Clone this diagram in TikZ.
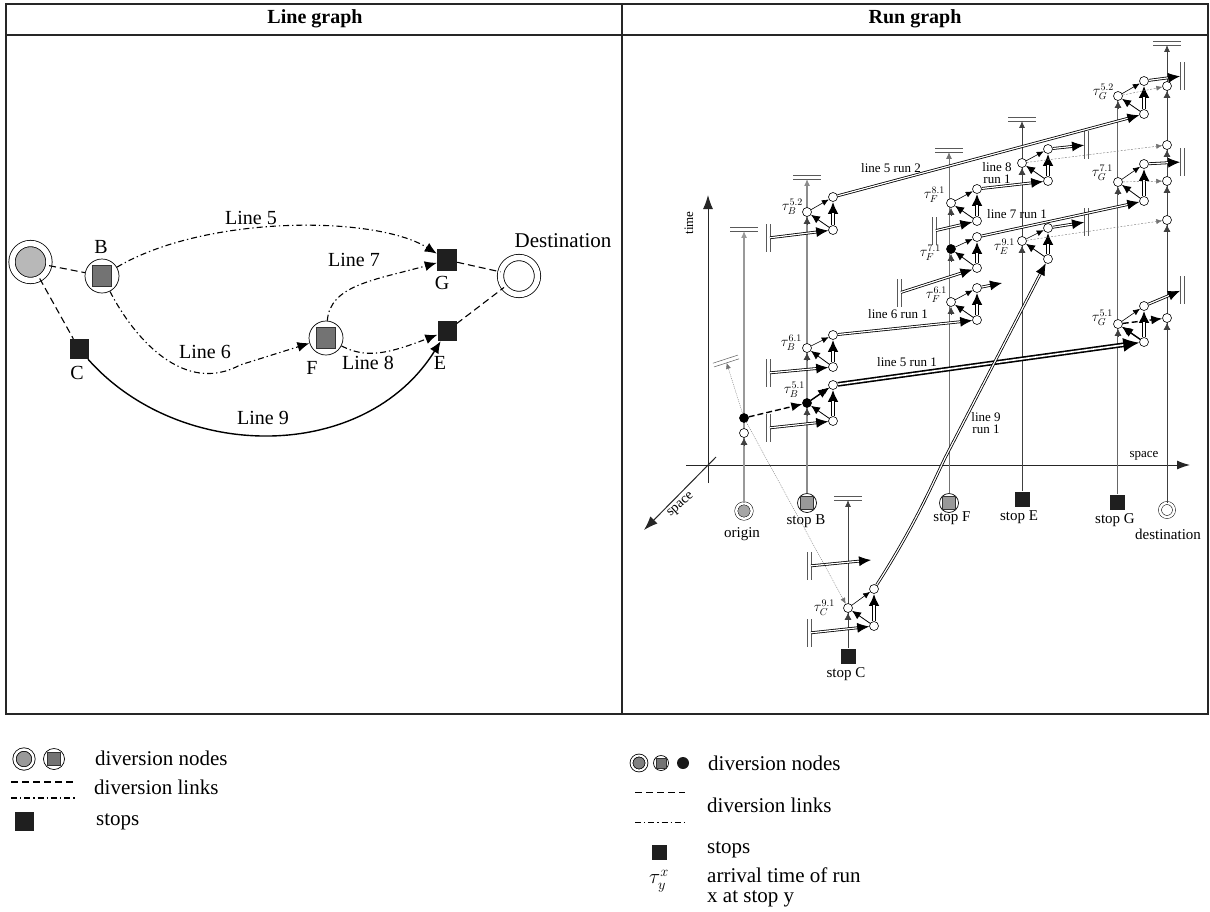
\documentclass[tikz,border=0pt]{standalone}
\usepackage{amsmath}
\usepackage{fontspec}
\setmainfont{Liberation Serif}
\usetikzlibrary{arrows.meta, calc}

\begin{document}
\begin{tikzpicture}[x=1pt, y=-1pt]
	\tikzset{
		frameln/.style={line width=2pt, black!85},
		lab/.style={font=\fontsize{20}{22}\selectfont, inner sep=0pt},
		stoplab/.style={font=\fontsize{15}{17}\selectfont, inner sep=0pt},
		leglab/.style={font=\fontsize{21}{22}\selectfont, inner sep=0pt, anchor=west},
		runlab/.style={font=\fontsize{13}{11.5}\selectfont, inner sep=0pt, align=center},
		% line graph
		divc/.style={circle, draw, line width=0.7pt, fill=white, minimum size=#1, inner sep=0pt},
		divo/.style={circle, draw, line width=0.8pt, fill=#1, double, double distance=5.5pt, inner sep=0pt},
		divs/.style={rectangle, draw=black!80, line width=0.8pt, fill=black!55, inner sep=0pt},
		stopn/.style={rectangle, fill=black!88, inner sep=0pt},
		divlink/.style={line width=1.1pt, dash pattern=on 7pt off 4pt},
		ddlink/.style={line width=1.1pt, dash pattern=on 6pt off 3pt on 1.3pt off 3pt, -{Latex[length=12pt,width=10pt]}},
		sollink/.style={line width=1.4pt, -{Latex[length=12pt,width=10pt]}},
		% run graph
		rnode/.style={circle, draw, line width=0.6pt, fill=white, minimum size=9pt, inner sep=0pt},
		tlab/.style={font=\fontsize{14}{15}\selectfont, inner sep=0pt, anchor=east},
		stemln/.style={-{Latex[length=7pt,width=6pt]}},
		tipin/.style={line width=0.7pt, black!75, -{Latex[length=7pt,width=7pt]}},
		hbar/.style={rectangle, minimum width=27pt, minimum height=3.5pt, inner sep=0pt},
		vbar/.style={rectangle, minimum width=3.5pt, minimum height=27pt, inner sep=0pt},
		barln/.style={line width=0.7pt, black!65},
		thinarr/.style={line width=0.6pt, -{Latex[length=7pt,width=6pt]}},
		midarr/.style={line width=0.8pt, -{Latex[length=9pt,width=8pt]}},
		dblout/.style={line width=3.6pt, -{Latex[length=12pt,width=11pt]}},
		dblin/.style={line width=1.2pt, white, shorten >=11pt},
		runarr/.style={line width=0.8pt, double, double distance=1.2pt, -{Latex[length=12pt,width=10pt]}},
		bigarr/.style={line width=1.6pt, double, double distance=1.6pt, -{Latex[length=16pt,width=14pt]}},
		grayd/.style={line width=0.4pt, black!55, dash pattern=on 2pt off 1.5pt, -{Latex[length=6pt,width=5pt]}}
	}
	\useasboundingbox (0,0) rectangle (1210,911);

	% table
	\draw[frameln] (6,4) rectangle (1208,714);
	\draw[frameln] (6,35) -- (1208,35);
	\draw[frameln] (622,4) -- (622,714);
	\node[lab, font=\fontsize{20}{22}\selectfont\bfseries] (hLine) at (315,19) {Line graph};
	\node[lab, font=\fontsize{20}{22}\selectfont\bfseries] (hRun) at (915,19) {Run graph};

	% line graph
	\node[divo=black!28, minimum size=37pt] (nO) at (30.5,262) {};
	\node[divc=34pt] (nB) at (102,276) {};
	\node[divs, minimum width=19pt, minimum height=21pt] (nBs) at (nB) {};
	\node[divc=34pt] (nF) at (326,338) {};
	\node[divs, minimum width=19pt, minimum height=21pt] (nFs) at (nF) {};
	\node[stopn, minimum width=20pt, minimum height=22pt] (nG) at (447,260) {};
	\node[stopn, minimum width=19pt, minimum height=20pt] (nE) at (447,331) {};
	\node[stopn, minimum width=19pt, minimum height=20pt] (nC) at (79,349) {};
	\node[divo=white, minimum size=37pt] (nD) at (519,276) {};

	\draw[divlink] (nO) -- (nB);
	\draw[divlink] (nO) -- (nC);
	\draw[divlink] (nG) -- (nD);
	\draw[divlink] (nE) -- (nD);
	\draw[ddlink] (nB) .. controls (205,215) and (375,215) .. (nG);
	\draw[ddlink] (nB) .. controls (135,340) and (185,395) .. (240,365) -- (nF);
	\draw[ddlink] (nF) .. controls (330,285) and (375,280) .. (nG);
	\draw[ddlink] (nF) .. controls (365,358) and (385,355) .. (nE);
	\draw[sollink] (nC) .. controls (180,463) and (365,463) .. (nE);

	\node[lab] (tB) at (101,247) {B};
	\node[lab] (tG) at (442,283) {G};
	\node[lab] (tC) at (77,373) {C};
	\node[lab] (tF) at (312,368) {F};
	\node[lab] (tE) at (440,363) {E};
	\node[lab, font=\fontsize{21}{22}\selectfont] (tDest) at (563,241) {Destination};
	\node[lab] (tL5) at (251,218) {Line 5};
	\node[lab] (tL7) at (354,260) {Line 7};
	\node[lab] (tL6) at (205,352) {Line 6};
	\node[lab] (tL8) at (368,363) {Line 8};
	\node[lab] (tL9) at (263,418) {Line 9};

	% axes
	\draw[line width=1pt, black!85, -{Latex[length=14pt,width=10pt]}] (708,483) coordinate (tS) -- (708,195) coordinate (tE);
	\draw[line width=1pt, black!85, -{Latex[length=13pt,width=9pt]}] (686,465) coordinate (hS) -- (1190,465) coordinate (hE);
	\draw[line width=1pt, black!85, -{Latex[length=14pt,width=10pt]}] (716,457) coordinate (dS) -- (644,530) coordinate (dE);
	\node[runlab, rotate=90] (tTime) at (689,223) {time};
	\node[runlab] (tSpace) at (1144,456) {space};
	\node[runlab, rotate=42, font=\fontsize{14}{15}\selectfont] (tSpaceD) at (681,505) {space};

	% stops at the bottom
	\node[divo=black!35, minimum size=15.5pt, line width=0.5pt, double distance=2.5pt] (sO) at (744,511) {};
	\node[divc=19pt] (sB) at (807,503) {};
	\node[divs, fill=black!40, minimum size=13pt] (sBs) at (sB) {};
	\node[divc=19pt] (sF) at (949,503) {};
	\node[divs, fill=black!40, minimum size=13pt] (sFs) at (sF) {};
	\node[stopn, minimum size=15pt] (sC) at (848,656) {};
	\node[stopn, minimum size=15pt] (sE) at (1022,499) {};
	\node[stopn, minimum size=15pt] (sG) at (1117,502) {};
	\node[divo=white, minimum size=14pt, line width=0.5pt, double distance=2.5pt] (sD) at (1167,510) {};

	\node[stoplab] (tsO) at (742,534) {origin};
	\node[stoplab] (tsB) at (806,521) {stop B};
	\node[stoplab] (tsC) at (846,674) {stop C};
	\node[stoplab] (tsF) at (952,518) {stop F};
	\node[stoplab] (tsE) at (1019,517) {stop E};
	\node[stoplab] (tsG) at (1115,520) {stop G};
	\node[stoplab] (tsD) at (1168,534) {destination};

	% stems with a double bar on top
	\foreach \n/\x/\y/\stem/\lw in {O/744/229/black!40/1.2pt, B/807/177/black!45/1.2pt, C/848/498/black!75/0.8pt, F/949/150/black!55/1pt, E/1022/119/black!75/0.8pt, D/1167/43/black!75/0.8pt} {
		\node[hbar] (top\n) at (\x,\y) {};
		\draw[barln] (top\n.north west) -- (top\n.north east);
		\draw[barln] (top\n.south west) -- (top\n.south east);
		\draw[stemln, draw=\stem, line width=\lw] (s\n) -- (top\n);
	}
	\coordinate (topG) at (1117,96);
	\draw[line width=1pt, black!60] (sG) -- (topG);

	% stub bars on the run lines
	\foreach \n/\x/\y in {bB52/768/238, bB61/768/373, bB51/768/428, bC2/809/566, bC1/809/633, bF71/899/293, bF81/934/231, bE81/1086/145, bE91/1086/222, bG52/1182/76, bG71/1182/162, bG51/1182/290} {
		\node[vbar] (\n) at (\x,\y) {};
		\draw[barln] (\n.north west) -- (\n.south west);
		\draw[barln] (\n.north east) -- (\n.south east);
	}

	% run cells
	\foreach \n/\x/\y/\up/\lo/\fc in {B51/807/403/385/421/black, B61/807/348/335/367/white, B52/807/212/197/230/white, C91/848/608/589/626/white, F61/951/302/288/320/white, F71/951/249/237/268/black, F81/951/203/189/221/white, E91/1022/241/228/259/white, E81/1022/163/149/181/white, G51/1118/324/306/342/white, G71/1118/182/164/201/white, G52/1118/96/81/114/white} {
		\node[rnode, fill=\fc] (\n) at (\x,\y) {};
		\node[rnode] (\n u) at (\x+26,\up) {};
		\node[rnode] (\n d) at (\x+26,\lo) {};
		\coordinate (\n s) at (\x,\y+13);
		\draw[tipin] (\n s) -- (\n);
		\draw[thinarr] (\n) -- (\n u);
		\draw[midarr] (\n d) -- (\n);
		\draw[dblout] (\n d) -- (\n u);
		\draw[dblin] (\n d) -- (\n u);
	}

	% arrival times
	\foreach \n/\x/\y/\stp/\runid in {B51/805/390/B/5.1, B61/802/343/B/6.1, B52/803/207/B/5.2, C91/835/608/C/9.1, F61/947/295/F/6.1, F71/941/253/F/7.1, F81/945/195/F/8.1, E91/1015/247/E/9.1, G51/1113/318/G/5.1, G71/1113/173/G/7.1, G52/1114/92/G/5.2} {
		\node[tlab] (t\n) at (\x,\y) {$\tau_{\stp}^{\runid}$};
	}

	% destination and origin column
	\foreach \n/\y in {D1/318, D2/220, D3/181, D4/145, D5/86} {
		\node[rnode] (\n) at (1167,\y) {};
		\coordinate (\n s) at (1167,\y+13);
		\draw[tipin] (\n s) -- (\n);
	}
	\node[rnode, fill=black] (O1) at (744,418) {};
	\node[rnode] (O0) at (744,433) {};
	\coordinate (O0s) at (744,446);
	\draw[tipin] (O0s) -- (O0);

	% runs
	\draw[bigarr] (B51u) -- (G51d);
	\draw[runarr] (B61u) -- (F61d);
	\draw[runarr] (B52u) -- (G52d);
	\draw[runarr] (F71u) -- (G71d);
	\draw[runarr] (F81u) -- (E81d);
	\draw[runarr] (C91u) .. controls (915,525) and (932,485) .. (945,458) -- (E91d);
	\foreach \a/\b in {bB52/B52d, bB61/B61d, bB51/B51d, bC1/C91d, bF71/F71d, bF81/F81d} {
		\draw[runarr] (\a) -- (\b);
	}
	\foreach \a/\b in {E81u/bE81, E91u/bE91, G52u/bG52, G71u/bG71, G51u/bG51} {
		\draw[runarr] (\a) -- (\b);
	}
	\coordinate (eF61) at (1002,283);
	\coordinate (eC2) at (871,560);
	\draw[runarr] (F61u) -- (eF61);
	\draw[runarr] (bC2) -- (eC2);

	% diversion links
	\draw[line width=1.4pt, dash pattern=on 6pt off 3pt, -{Latex[length=11pt,width=9pt]}] (O1) -- (B51);
	\draw[line width=1.4pt, dash pattern=on 6pt off 3pt, -{Latex[length=11pt,width=9pt]}] (G51) -- (D1);
	\draw[line width=1.4pt, -{Latex[length=11pt,width=9pt]}] (B51) -- (B51u);
	\draw[line width=1.4pt, -{Latex[length=11pt,width=9pt]}] (G51d) -- (G51);
	\foreach \a/\b in {E81/D4, E91/D2, G52/D5, G71/D3} {
		\draw[grayd] (\a) -- (\b);
	}
	\node[hbar, rotate=18, minimum width=26pt] (oBar) at (726,361) {};
	\draw[barln, line width=0.5pt] (oBar.north west) -- (oBar.north east);
	\draw[barln, line width=0.5pt] (oBar.south west) -- (oBar.south east);
	\draw[grayd, dash pattern=on 1pt off 1pt] (O1) -- (oBar);
	\draw[grayd, dash pattern=on 1pt off 1pt] (O1) -- (C91);

	\node[runlab] (tR51) at (907,362) {line 5 run 1};
	\node[runlab] (tR61) at (898,314) {line 6 run 1};
	\node[runlab] (tR52) at (891,168) {line 5 run 2};
	\node[runlab] (tR81) at (997,173) {line 8\\run 1};
	\node[runlab] (tR71) at (1017,214) {line 7 run 1};
	\node[runlab] (tR91) at (986,423) {line 9\\run 1};

	% legend left
	\node[divo=black!40, minimum size=19pt, double distance=2.5pt] (lO) at (24,759) {};
	\node[divc=21pt] (lB) at (54,759) {};
	\node[divs, minimum size=13pt] (lBs) at (lB) {};
	\node[leglab] (tl1) at (95,758) {diversion nodes};
	\coordinate (la1) at (11,782);
	\coordinate (la2) at (75,782);
	\coordinate (lb1) at (11,798);
	\coordinate (lb2) at (75,798);
	\draw[divlink] (la1) -- (la2);
	\draw[divlink, dash pattern=on 6pt off 3pt on 1.3pt off 3pt] (lb1) -- (lb2);
	\node[leglab] (tl2) at (94,787) {diversion links};
	\node[stopn, minimum size=19pt] (lS) at (24,821) {};
	\node[leglab] (tl3) at (96,822) {stops};

	% legend right
	\node[divo=black!50, minimum size=15pt, double distance=2pt] (rO) at (639,763) {};
	\node[divc=15pt] (rB) at (661,763) {};
	\node[divs, minimum size=10pt] (rBs) at (rB) {};
	\node[circle, fill=black!90, minimum size=12pt, inner sep=0pt] (rK) at (683,763) {};
	\node[leglab] (tr1) at (708,763) {diversion nodes};
	\coordinate (ra1) at (635,792);
	\coordinate (ra2) at (685,792);
	\coordinate (rb1) at (635,822);
	\coordinate (rb2) at (685,822);
	\draw[divlink, line width=0.8pt] (ra1) -- (ra2);
	\draw[divlink, line width=0.8pt, dash pattern=on 6pt off 3pt on 1.3pt off 3pt] (rb1) -- (rb2);
	\node[leglab] (tr2) at (707,805) {diversion links};
	\node[stopn, minimum size=15pt] (rS) at (659,852) {};
	\node[leglab] (tr3) at (707,850) {stops};
	\node[lab] (rTau) at (659,881) {$\tau_y^x$};
	\node[leglab, align=left, font=\fontsize{21}{20}\selectfont] (tr4) at (707,887) {arrival time of run\\x at stop y};
\end{tikzpicture}
\end{document}
